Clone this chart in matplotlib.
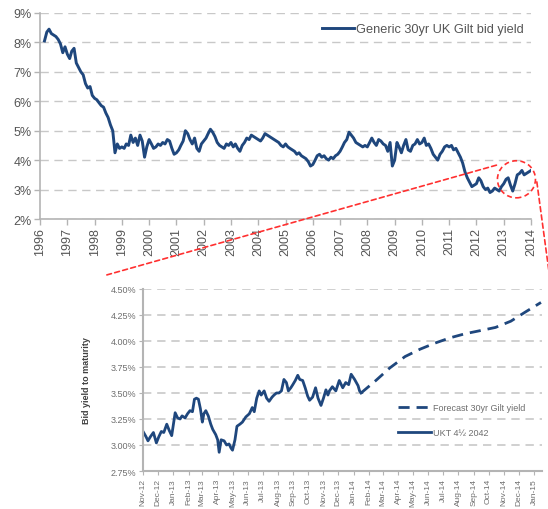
import numpy as np
import pandas as pd
import matplotlib as mpl
import matplotlib.pyplot as plt
import matplotlib.dates as mdates
from matplotlib.patches import Ellipse, ConnectionPatch
from matplotlib.ticker import MultipleLocator, FuncFormatter

# generic 30yr UK gilt bid yield (%), monthly from Mar-1996 to Jan-2014
gilt_30yr = [
    8.05, 8.35, 8.45, 8.30, 8.25, 8.20, 8.10, 7.95, 7.65, 7.85,              # 1996
    7.60, 7.45, 7.70, 7.80, 7.30, 7.15, 7.00, 6.90, 6.60, 6.45, 6.50, 6.20,  # 1997
    6.10, 6.05, 5.95, 5.85, 5.80, 5.60, 5.45, 5.20, 5.00, 4.25, 4.55, 4.40,  # 1998
    4.45, 4.40, 4.55, 4.50, 4.85, 4.60, 4.75, 4.50, 4.85, 4.65, 4.10, 4.45,  # 1999
    4.70, 4.55, 4.40, 4.45, 4.55, 4.50, 4.60, 4.55, 4.70, 4.65, 4.40, 4.20,  # 2000
    4.25, 4.35, 4.50, 4.65, 5.00, 4.90, 4.70, 4.55, 4.75, 4.40, 4.30, 4.55,  # 2001
    4.65, 4.75, 4.90, 5.05, 4.95, 4.80, 4.60, 4.50, 4.45, 4.40, 4.55, 4.50,  # 2002
    4.60, 4.45, 4.55, 4.40, 4.30, 4.50, 4.60, 4.75, 4.70, 4.85, 4.80, 4.75,  # 2003
    4.70, 4.65, 4.75, 4.90, 4.85, 4.80, 4.75, 4.70, 4.65, 4.60, 4.50, 4.45,  # 2004
    4.55, 4.45, 4.40, 4.35, 4.30, 4.20, 4.25, 4.15, 4.10, 4.05, 3.95, 3.80,  # 2005
    3.85, 4.00, 4.15, 4.20, 4.10, 4.15, 4.05, 4.00, 4.10, 4.05, 4.15, 4.20,  # 2006
    4.30, 4.45, 4.60, 4.70, 4.95, 4.85, 4.75, 4.60, 4.55, 4.50, 4.45, 4.50,  # 2007
    4.45, 4.60, 4.75, 4.60, 4.50, 4.70, 4.65, 4.55, 4.50, 4.30, 4.60, 3.80,  # 2008
    4.00, 4.60, 4.45, 4.25, 4.50, 4.70, 4.35, 4.30, 4.50, 4.55, 4.70, 4.55,  # 2009
    4.60, 4.75, 4.50, 4.55, 4.40, 4.20, 4.10, 4.00, 4.20, 4.30, 4.45, 4.50,  # 2010
    4.45, 4.50, 4.35, 4.40, 4.25, 4.10, 3.90, 3.60, 3.40, 3.25, 3.10, 3.15,  # 2011
    3.20, 3.40, 3.30, 3.10, 3.00, 3.05, 2.90, 2.95, 3.05, 3.00, 2.95, 3.10,  # 2012
    3.20, 3.35, 3.40, 3.15, 2.95, 3.20, 3.50, 3.55, 3.65, 3.50, 3.55, 3.60,  # 2013
    3.65,                                                                     # 2014
]
years = [str(y) for y in range(1996, 2015)]

# UKT 4.5% 2042 bid yield to maturity (%)
ukt_dates = [
    "2012-11-01", "2012-11-07", "2012-11-11", "2012-11-16", "2012-11-22", "2012-11-28",
    "2012-12-03", "2012-12-08", "2012-12-13", "2012-12-19", "2012-12-24", "2012-12-29",
    "2013-01-05", "2013-01-10", "2013-01-15", "2013-01-19", "2013-01-25", "2013-01-30",
    "2013-02-04", "2013-02-09", "2013-02-13", "2013-02-17", "2013-02-21", "2013-02-25",
    "2013-03-01", "2013-03-04", "2013-03-08", "2013-03-13", "2013-03-18", "2013-03-22", "2013-03-28",
    "2013-04-01", "2013-04-04", "2013-04-08", "2013-04-14", "2013-04-19", "2013-04-24", "2013-04-28",
    "2013-05-01", "2013-05-06", "2013-05-10", "2013-05-16", "2013-05-21", "2013-05-28",
    "2013-06-04", "2013-06-10", "2013-06-14", "2013-06-19", "2013-06-24", "2013-06-28",
    "2013-07-04", "2013-07-09", "2013-07-14", "2013-07-20", "2013-07-24", "2013-07-29",
    "2013-08-03", "2013-08-08", "2013-08-13", "2013-08-18", "2013-08-22", "2013-08-27", "2013-08-31",
    "2013-09-05", "2013-09-10", "2013-09-14", "2013-09-20", "2013-09-25", "2013-09-30",
    "2013-10-04", "2013-10-10", "2013-10-16", "2013-10-21", "2013-10-27",
    "2013-11-01", "2013-11-06", "2013-11-10", "2013-11-13", "2013-11-19", "2013-11-26",
    "2013-12-03", "2013-12-10", "2013-12-16", "2013-12-22", "2013-12-27",
    "2014-01-03", "2014-01-10", "2014-01-13", "2014-01-16",
]
ukt_yield = [
    3.13, 3.08, 3.04, 3.08, 3.12, 3.02,
    3.08, 3.13, 3.12, 3.20, 3.14, 3.09,
    3.31, 3.26, 3.25, 3.28, 3.26, 3.30,
    3.33, 3.32, 3.44, 3.45, 3.44, 3.35,
    3.22, 3.30, 3.33, 3.28, 3.20, 3.15, 3.10,
    3.05, 2.93, 3.05, 3.04, 3.00, 3.01, 2.97,
    2.95, 3.05, 3.18, 3.20, 3.22, 3.27,
    3.30, 3.36, 3.32, 3.45, 3.52, 3.48,
    3.52, 3.45, 3.42, 3.46, 3.48, 3.50,
    3.50, 3.52, 3.63, 3.60, 3.52, 3.55, 3.58,
    3.62, 3.67, 3.63, 3.62, 3.55, 3.47,
    3.43, 3.46, 3.55, 3.45, 3.38,
    3.45, 3.53, 3.48, 3.52, 3.56, 3.52,
    3.62, 3.55, 3.60, 3.58, 3.68,
    3.63, 3.57, 3.52, 3.50,
]

# forecast 30yr gilt yield (%)
fc_dates = ["2014-01-16", "2014-02-15", "2014-03-15", "2014-04-15", "2014-05-15", "2014-06-15",
            "2014-07-15", "2014-08-15", "2014-09-15", "2014-10-15", "2014-11-15", "2014-12-15",
            "2015-01-15"]
fc_yield = [3.50, 3.62, 3.74, 3.85, 3.92, 3.98, 4.03, 4.07, 4.10, 4.13, 4.19, 4.28, 4.37]

navy = "#1f477d"
grid_c = "#c8c8c8"
spine_c = "#b4b4b4"
txt_c = "#555555"
red_c = "#ff3030"

mpl.rcParams['font.family'] = ['Liberation Sans', 'DejaVu Sans']

fig = plt.figure(figsize=(5.48, 5.10), dpi=100)

# ---------------- top chart ----------------
ax1 = fig.add_axes([0.073, 0.5686, 0.896, 0.404])
top_x = pd.date_range("1996-03-01", periods=len(gilt_30yr), freq="MS")
ax1.plot(top_x, gilt_30yr, color=navy, linewidth=2.1, label="Generic 30yr UK Gilt bid yield")

ax1.set_xlim(pd.Timestamp(years[0] + "-01-01"), pd.Timestamp(years[-1] + "-01-01"))
ax1.set_ylim(2, 9)
ax1.set_xticks([pd.Timestamp(y + "-01-01") for y in years])
ax1.set_xticklabels(years, rotation=90, fontsize=9, color=txt_c)
ax1.yaxis.set_major_locator(MultipleLocator(1))
ax1.yaxis.set_major_formatter(FuncFormatter(lambda v, p: "%d%%" % v))
for t in ax1.get_yticklabels():
    t.set_fontsize(9)
    t.set_color(txt_c)
ax1.grid(axis='y', color=grid_c, linestyle=(0, (6, 4)), linewidth=1.0)
ax1.set_axisbelow(True)
ax1.tick_params(axis='both', length=4, width=1, color=spine_c, pad=2)

for s in ['top', 'right']:
    ax1.spines[s].set_visible(False)
for s in ['left', 'bottom']:
    ax1.spines[s].set_color(spine_c)
    ax1.spines[s].set_linewidth(1.2)

leg1 = ax1.legend(loc='center left', bbox_to_anchor=(0.574, 0.922), frameon=False, fontsize=9.2,
                  handlelength=2.5, handletextpad=0.2, borderpad=0, borderaxespad=0)
for t in leg1.get_texts():
    t.set_color(txt_c)

# red zoom ellipse around 2013
c_x = mdates.date2num(pd.Timestamp("2013-06-20"))
ell = Ellipse((c_x, 3.35), width=509, height=1.26, fill=False, edgecolor=red_c,
              linestyle=(0, (3, 2)), linewidth=1.2, clip_on=False, zorder=5)
ax1.add_patch(ell)

# ---------------- bottom chart ----------------
ax2 = fig.add_axes([0.261, 0.0745, 0.728, 0.357])
ukt_x = pd.to_datetime(ukt_dates)
fc_x = pd.to_datetime(fc_dates)
ax2.plot(fc_x, fc_yield, color=navy, linewidth=2.0, linestyle=(0, (4, 2.5)),
         label="Forecast 30yr Gilt yield")
ax2.plot(ukt_x, ukt_yield, color=navy, linewidth=2.0, label="UKT 4\u00bd 2042")

ax2.set_xlim(pd.Timestamp("2012-11-01"), pd.Timestamp("2015-01-17"))
ax2.set_ylim(2.75, 4.5)
ax2.yaxis.set_major_locator(MultipleLocator(0.25))
ax2.yaxis.set_major_formatter(FuncFormatter(lambda v, p: "%.2f%%" % v))
ax2.xaxis.set_major_locator(mdates.MonthLocator())
ax2.xaxis.set_major_formatter(mdates.DateFormatter("%b-%y"))
ax2.tick_params(axis='x', labelsize=6, labelrotation=90, labelcolor="#6e6e6e", length=3, color=spine_c, pad=2)
ax2.tick_params(axis='y', labelsize=6.5, labelcolor="#6e6e6e", length=3, color=spine_c, pad=2)
ax2.grid(axis='y', color=grid_c, linestyle=(0, (5, 3.5)), linewidth=1.2)
ax2.set_axisbelow(True)
ax2.set_ylabel("Bid yield to maturity", fontsize=6.5, fontweight='bold', color="#404040", labelpad=14)

for s in ['top', 'right']:
    ax2.spines[s].set_visible(False)
for s in ['left', 'bottom']:
    ax2.spines[s].set_color(spine_c)
    ax2.spines[s].set_linewidth(1.5)

leg2 = ax2.legend(loc='center left', bbox_to_anchor=(0.64, 0.28), frameon=False, fontsize=6.5,
                  handlelength=3.6, handletextpad=0.2, labelspacing=1.7, borderpad=0, borderaxespad=0)
for t in leg2.get_texts():
    t.set_color("#6e6e6e")

# red dashed lines from the ellipse to the lower chart
left_pt = (mdates.date2num(pd.Timestamp("2012-09-25")), 3.83)
right_pt = (mdates.date2num(pd.Timestamp("2014-03-20")), 3.26)
con1 = ConnectionPatch(xyA=left_pt, coordsA=ax1.transData, xyB=(0.195, 0.459), coordsB=fig.transFigure,
                       color=red_c, linestyle=(0, (3, 2)), linewidth=1.2, zorder=5)
con2 = ConnectionPatch(xyA=right_pt, coordsA=ax1.transData, xyB=(1.01, 0.40), coordsB=fig.transFigure,
                       color=red_c, linestyle=(0, (3, 2)), linewidth=1.2, zorder=5)
fig.add_artist(con1)
fig.add_artist(con2)

plt.savefig("out.png", dpi=100)
